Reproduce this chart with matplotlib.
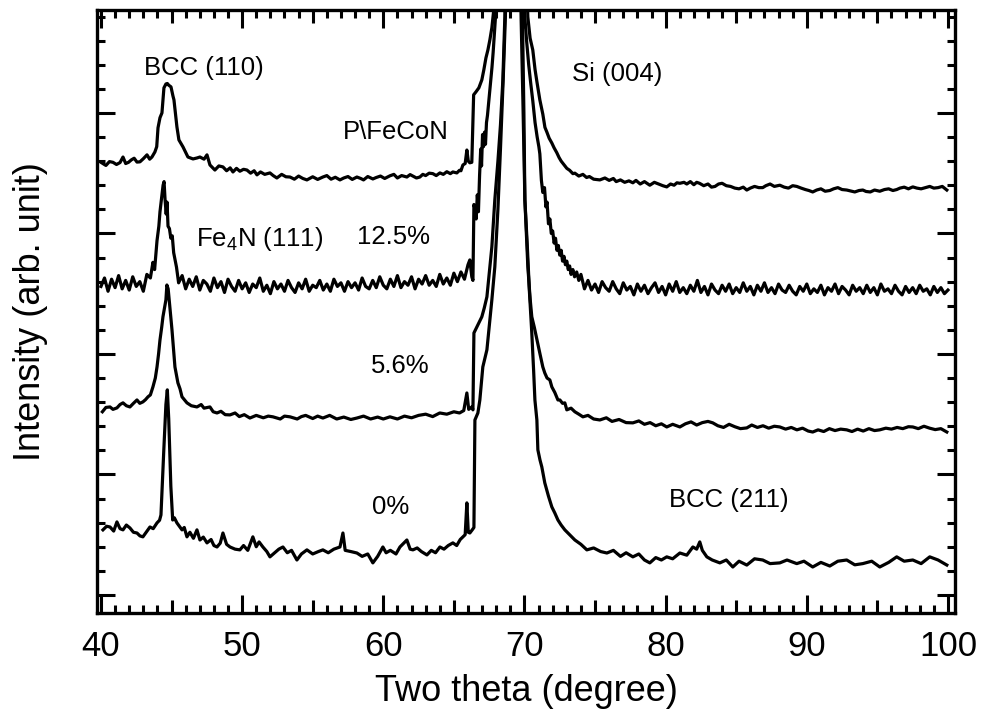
import numpy as np
import matplotlib
matplotlib.use("Agg")
import matplotlib.pyplot as plt
from matplotlib.ticker import MultipleLocator

plt.rcParams['font.family'] = ['Liberation Sans', 'DejaVu Sans']
plt.rcParams['mathtext.fontset'] = 'custom'
plt.rcParams['mathtext.rm'] = 'Liberation Sans'
plt.rcParams['mathtext.it'] = 'Liberation Sans'
plt.rcParams['mathtext.default'] = 'rm'

# --- P\FeCoN (top trace) ---
tt_fecon = [40.05, 40.35, 40.6, 40.85, 41.1, 41.35, 41.56, 41.75, 41.95, 42.15,
            42.35, 42.55, 42.76, 43.0, 43.26, 43.45, 43.61, 43.82, 43.95, 44.04,
            44.18, 44.32, 44.46, 44.6, 44.7, 44.8, 44.96, 45.1, 45.17, 45.38,
            45.52, 45.81, 46.16, 46.52, 46.8, 47.01, 47.3, 47.51, 47.72, 48.07,
            48.35, 48.64, 48.9, 49.15, 49.35, 49.6, 49.84, 50.1, 50.34, 50.6,
            50.85, 51.05, 51.3, 51.6, 51.97, 52.2, 52.46, 52.8, 53.1, 53.39,
            53.7, 54.0, 54.3, 54.59, 55.0, 55.35, 55.72, 56.0, 56.3, 56.6,
            56.93, 57.2, 57.5, 57.8, 58.13, 58.4, 58.6, 58.9, 59.26, 59.5,
            59.8, 60.1, 60.47, 60.75, 61.0, 61.3, 61.67, 61.9, 62.1, 62.35,
            62.59, 62.8, 63.0, 63.25, 63.51, 63.75, 64.01, 64.25, 64.5, 64.75,
            64.93, 65.21, 65.4, 65.5, 65.64, 65.8, 65.92, 66.02, 66.13, 66.27,
            66.4, 66.56, 66.77, 66.98, 67.12, 67.27, 67.41, 67.55, 67.69, 67.83,
            68.3, 69.0, 69.8, 70.24, 70.4, 70.59, 70.75, 70.88, 71.09, 71.3,
            71.45, 71.59, 71.75, 71.94, 72.1, 72.29, 72.45, 72.6, 72.8, 73.0,
            73.2, 73.43, 73.57, 73.85, 74.14, 74.4, 74.6, 74.9, 75.34, 75.7,
            76.0, 76.3, 76.5, 76.8, 77.1, 77.4, 77.68, 77.9, 78.2, 78.5,
            78.88, 79.2, 79.5, 79.8, 80.08, 80.35, 80.6, 80.8, 81.01, 81.3,
            81.5, 81.75, 82.0, 82.2, 82.4, 82.7, 83.0, 83.25, 83.5, 83.75,
            84.0, 84.3, 84.6, 84.9, 85.2, 85.5, 85.75, 86.0, 86.3, 86.6,
            86.88, 87.1, 87.4, 87.7, 88.09, 88.4, 88.7, 89.0, 89.29, 89.6,
            89.9, 90.15, 90.42, 90.7, 91.0, 91.3, 91.63, 91.9, 92.2, 92.5,
            92.83, 93.1, 93.4, 93.7, 93.97, 94.2, 94.5, 94.8, 95.17, 95.5,
            95.8, 96.1, 96.37, 96.6, 96.9, 97.2, 97.51, 97.8, 98.1, 98.4,
            98.71, 99.0, 99.3, 99.6, 99.92]
int_fecon = [17.93, 17.82, 17.98, 17.95, 17.86, 17.94, 18.17, 17.9, 17.95, 18.05,
             18.12, 17.96, 17.97, 18.1, 18.26, 18.08, 18.17, 18.38, 18.6, 19.38,
             19.8, 20.0, 21.04, 21.2, 21.22, 21.15, 21.08, 20.7, 20.54, 19.42,
             18.88, 18.59, 18.17, 18.09, 18.13, 18.17, 18.08, 18.26, 17.84, 17.63,
             17.8, 17.76, 17.6, 17.72, 17.55, 17.7, 17.58, 17.66, 17.63, 17.5,
             17.6, 17.43, 17.55, 17.45, 17.51, 17.4, 17.3, 17.45, 17.35, 17.34,
             17.25, 17.38, 17.28, 17.22, 17.35, 17.24, 17.34, 17.4, 17.25, 17.33,
             17.22, 17.3, 17.36, 17.24, 17.34, 17.28, 17.22, 17.36, 17.26, 17.32,
             17.38, 17.28, 17.39, 17.45, 17.3, 17.4, 17.34, 17.44, 17.38, 17.3,
             17.34, 17.45, 17.4, 17.5, 17.48, 17.4, 17.51, 17.45, 17.56, 17.48,
             17.55, 17.51, 17.62, 17.6, 17.84, 17.9, 18.46, 18.0, 17.93, 17.95,
             20.75, 20.87, 21.04, 21.37, 21.78, 22.28, 22.61, 23.03, 23.53, 24.3,
             32.0, 40.0, 32.0, 23.98, 23.1, 22.61, 21.8, 21.3, 20.54, 19.95,
             19.4, 19.2, 18.95, 18.75, 18.55, 18.35, 18.15, 18.0, 17.85, 17.7,
             17.62, 17.48, 17.5, 17.38, 17.45, 17.32, 17.36, 17.25, 17.22, 17.3,
             17.2, 17.28, 17.15, 17.22, 17.12, 17.18, 17.1, 17.2, 17.05, 17.15,
             17.0, 17.12, 17.05, 16.98, 16.93, 17.05, 17.0, 17.1, 17.08, 17.12,
             17.05, 17.15, 17.02, 17.12, 17.08, 16.98, 17.05, 16.92, 16.95, 17.05,
             17.08, 16.98, 16.95, 16.88, 16.85, 16.92, 16.8, 16.88, 16.95, 16.9,
             16.9, 16.98, 17.05, 16.95, 17.0, 16.92, 16.88, 16.98, 16.95, 16.88,
             16.82, 16.78, 16.72, 16.8, 16.85, 16.75, 16.78, 16.85, 16.9, 16.82,
             16.8, 16.76, 16.72, 16.78, 16.8, 16.74, 16.72, 16.8, 16.75, 16.82,
             16.85, 16.78, 16.82, 16.88, 16.92, 16.85, 16.93, 16.88, 16.85, 16.9,
             16.95, 16.88, 16.9, 16.95, 16.8]

# --- 12.5 % trace (constant 0.25 deg scan step outside the peaks) ---
int_125_a = [12.8, 13.15, 12.6, 13.1, 12.75, 13.25, 12.7, 13.05, 12.65, 13.2,
             12.8, 13.0, 12.6, 13.3, 13.15]
tt_125_peak = [43.68, 43.8, 43.97, 44.1, 44.18, 44.3, 44.4, 44.47, 44.54, 44.62,
               44.68, 44.75, 44.85, 44.95, 45.05, 45.15, 45.25, 45.35]
int_125_peak = [13.8, 13.5, 14.7, 15.3, 15.9, 16.5, 17.0, 17.15, 16.4, 15.8,
                16.3, 15.3, 15.2, 14.8, 14.9, 14.2, 13.9, 13.6]
int_125_b = [12.95, 13.25, 12.7, 13.1, 12.8, 13.2, 12.65, 13.05, 12.9, 12.6,
             13.15, 12.75, 13.0, 12.55, 13.1, 12.8, 12.6, 13.05, 12.7, 12.95,
             12.55, 12.9, 12.75, 13.15, 12.6, 12.85, 12.5, 13.0, 12.7, 12.9,
             12.6, 13.05, 12.75, 12.55, 12.95, 12.7, 13.1, 12.6, 12.85, 12.75,
             13.05, 12.65, 12.9, 12.6, 13.1, 12.8, 12.95, 12.6, 13.0, 12.75,
             12.95, 12.65, 13.15, 12.8, 12.7, 13.05, 12.75, 13.2, 12.85, 12.7,
             13.1, 12.8, 13.25, 12.75, 13.0, 12.85, 13.2, 12.7, 13.1, 12.9,
             13.25, 12.85, 13.05, 12.8, 13.3, 12.9, 13.15, 12.85, 13.35, 13.0,
             13.4, 13.1, 13.7]
tt_125_si = [66.13, 66.27, 66.35, 66.42, 66.5, 66.58, 66.66, 66.74, 66.82, 66.9,
             66.96, 67.03, 67.1, 67.17, 67.24, 67.31, 67.38, 67.46, 67.54, 67.62,
             67.7, 67.78, 67.86, 67.95, 68.05, 69.0, 70.0, 70.15, 70.3, 70.45,
             70.59, 70.75, 70.9, 71.02, 71.09, 71.2, 71.3, 71.42, 71.52, 71.6,
             71.7, 71.8, 71.9, 72.0, 72.1, 72.2, 72.3, 72.4, 72.5, 72.6,
             72.7, 72.8, 72.9, 73.0, 73.1, 73.2, 73.3, 73.43, 73.55, 73.7,
             73.85, 74.0, 74.15]
int_125_si = [13.9, 13.2, 13.05, 16.2, 16.0, 15.6, 16.6, 15.9, 17.4, 18.5,
              17.8, 19.1, 18.6, 19.2, 18.7, 19.6, 19.9, 20.4, 20.9, 21.4,
              21.9, 22.5, 23.2, 24.0, 25.0, 40.0, 24.2, 23.0, 22.0, 21.2,
              20.5, 19.6, 19.0, 18.6, 18.3, 17.2, 16.7, 16.9, 16.1, 16.3,
              15.4, 15.6, 15.0, 15.1, 14.6, 14.8, 14.3, 14.5, 14.1, 14.3,
              13.85, 14.05, 13.7, 13.85, 13.5, 13.65, 13.3, 13.5, 13.2, 13.4,
              13.05, 13.3, 12.95]
int_125_c = [12.7, 13.05, 12.65, 12.9, 12.55, 13.0, 12.75, 12.6, 13.0, 12.7,
             12.5, 12.95, 12.65, 12.8, 12.45, 12.9, 12.6, 12.85, 12.5, 12.75,
             12.95, 12.55, 12.8, 12.45, 12.9, 12.6, 13.0, 12.55, 12.75, 12.5,
             12.85, 12.6, 13.05, 12.55, 12.8, 12.45, 12.9, 12.65, 12.5, 12.85,
             12.6, 12.9, 12.5, 12.75, 12.55, 12.95, 12.6, 12.8, 12.45, 12.85,
             12.6, 12.95, 12.55, 12.75, 12.5, 12.9, 12.65, 12.55, 12.85, 12.6,
             12.45, 12.8, 12.6, 12.9, 12.5, 12.7, 12.55, 12.85, 12.45, 12.75,
             12.6, 12.9, 12.5, 12.8, 12.65, 12.45, 12.85, 12.6, 12.75, 12.5,
             12.85, 12.55, 12.75, 12.45, 12.9, 12.6, 12.7, 12.5, 12.85, 12.6,
             12.45, 12.8, 12.55, 12.75, 12.5, 12.85, 12.6, 12.7, 12.45, 12.8,
             12.55, 12.75, 12.5, 12.65]

# --- 5.6 % trace ---
tt_56 = [40.1, 40.35, 40.64, 40.85, 41.13, 41.35, 41.56, 41.8, 42.05, 42.3,
         42.55, 42.75, 42.97, 43.15, 43.33, 43.5, 43.68, 43.85, 43.97, 44.08,
         44.18, 44.3, 44.39, 44.5, 44.6, 44.67, 44.76, 44.9, 45.03, 45.24,
         45.45, 45.6, 45.74, 46.09, 46.4, 46.8, 47.1, 47.3, 47.72, 47.95,
         48.22, 48.5, 48.8, 49.14, 49.5, 49.8, 50.15, 50.55, 51.0, 51.5,
         51.85, 52.18, 52.7, 53.0, 53.39, 53.9, 54.2, 54.5, 55.0, 55.35,
         55.72, 56.2, 56.5, 56.7, 57.2, 57.7, 58.13, 58.6, 59.1, 59.6,
         60.0, 60.47, 61.0, 61.5, 62.0, 62.5, 63.0, 63.5, 64.0, 64.5,
         65.0, 65.4, 65.7, 65.92, 66.05, 66.27, 66.35, 66.42, 66.63, 66.98,
         67.15, 67.34, 67.5, 67.69, 67.9, 68.12, 68.3, 68.47, 68.61, 69.0,
         69.75, 69.89, 70.03, 70.24, 70.4, 70.52, 70.7, 70.88, 71.1, 71.3,
         71.44, 71.6, 71.8, 71.94, 72.15, 72.37, 72.51, 72.7, 72.86, 73.0,
         73.3, 73.57, 73.85, 74.14, 74.5, 74.9, 75.34, 75.8, 76.2, 76.7,
         77.2, 77.68, 78.1, 78.5, 78.9, 79.3, 79.7, 80.08, 80.5, 81.01,
         81.4, 81.8, 82.2, 82.6, 83.0, 83.34, 83.7, 84.1, 84.5, 84.9,
         85.3, 85.75, 86.1, 86.5, 86.9, 87.3, 87.7, 88.09, 88.5, 88.9,
         89.3, 89.7, 90.1, 90.42, 90.8, 91.2, 91.6, 92.0, 92.4, 92.83,
         93.2, 93.6, 94.0, 94.4, 94.8, 95.17, 95.6, 96.0, 96.4, 96.8,
         97.2, 97.51, 97.9, 98.3, 98.7, 99.1, 99.5, 99.92]
int_56 = [7.6, 7.78, 7.8, 7.7, 7.76, 7.9, 7.97, 7.85, 7.8, 7.95,
          8.09, 7.95, 8.01, 8.1, 8.22, 8.3, 8.63, 9.0, 9.46, 10.0,
          10.58, 11.1, 11.54, 11.9, 12.24, 12.86, 12.7, 11.8, 11.0, 9.46,
          8.8, 8.55, 8.22, 7.97, 7.85, 7.8, 7.9, 7.75, 7.8, 7.6,
          7.55, 7.62, 7.48, 7.47, 7.55, 7.4, 7.48, 7.34, 7.45, 7.35,
          7.42, 7.39, 7.3, 7.42, 7.39, 7.3, 7.4, 7.45, 7.32, 7.42,
          7.34, 7.45, 7.36, 7.3, 7.38, 7.28, 7.34, 7.42, 7.3, 7.38,
          7.3, 7.39, 7.3, 7.42, 7.35, 7.45, 7.5, 7.4, 7.55, 7.5,
          7.6, 7.55, 7.65, 8.38, 7.7, 7.8, 7.68, 10.87, 11.12, 11.54,
          11.9, 12.37, 13.3, 14.44, 16.39, 18.0, 19.5, 21.37, 23.98, 40.0,
          24.3, 20.5, 16.39, 13.61, 12.3, 11.54, 11.1, 10.6, 10.0, 9.46,
          9.21, 9.0, 8.92, 8.63, 8.4, 8.09, 8.09, 7.95, 7.97, 7.68,
          7.75, 7.6, 7.5, 7.39, 7.45, 7.3, 7.26, 7.35, 7.2, 7.28,
          7.15, 7.14, 7.22, 7.08, 7.15, 7.02, 7.1, 6.97, 7.08, 6.97,
          7.1, 7.18, 7.05, 7.15, 7.2, 7.14, 7.02, 6.95, 7.08, 6.98,
          6.9, 6.93, 7.05, 6.95, 7.02, 6.92, 7.0, 6.97, 6.88, 6.95,
          6.85, 6.92, 6.8, 6.76, 6.85, 6.78, 6.9, 6.82, 6.88, 6.85,
          6.78, 6.88, 6.8, 6.9, 6.82, 6.85, 6.92, 6.88, 6.95, 6.9,
          6.98, 6.97, 6.9, 7.0, 6.92, 6.86, 6.9, 6.76]

# --- 0 % trace ---
tt_0 = [40.14, 40.4, 40.64, 40.9, 41.13, 41.35, 41.56, 41.8, 42.05, 42.3,
        42.55, 42.76, 42.97, 43.2, 43.47, 43.7, 43.97, 44.15, 44.25, 44.45,
        44.6, 44.7, 44.8, 44.95, 45.08, 45.2, 45.38, 45.55, 45.74, 45.9,
        46.09, 46.3, 46.55, 46.8, 47.01, 47.25, 47.51, 47.8, 48.0, 48.22,
        48.45, 48.64, 48.9, 49.14, 49.5, 49.84, 50.1, 50.4, 50.76, 51.0,
        51.2, 51.47, 51.75, 51.97, 52.3, 52.6, 52.89, 53.2, 53.5, 53.88,
        54.2, 54.59, 55.0, 55.4, 55.72, 56.1, 56.5, 56.93, 57.14, 57.3,
        57.7, 58.13, 58.5, 58.9, 59.26, 59.6, 59.97, 60.2, 60.5, 60.9,
        61.18, 61.45, 61.67, 61.9, 62.1, 62.4, 62.7, 63.09, 63.4, 63.7,
        64.01, 64.3, 64.6, 64.93, 65.2, 65.45, 65.64, 65.8, 65.92, 66.02,
        66.13, 66.3, 66.42, 66.49, 66.7, 66.84, 67.05, 67.34, 67.69, 67.9,
        68.12, 68.3, 68.5, 68.65, 69.0, 69.85, 69.96, 70.03, 70.2, 70.35,
        70.52, 70.65, 70.74, 70.88, 70.95, 71.1, 71.23, 71.44, 71.7, 71.94,
        72.15, 72.37, 72.6, 72.86, 73.2, 73.57, 74.0, 74.42, 74.9, 75.4,
        75.84, 76.3, 76.8, 77.2, 77.68, 78.1, 78.5, 78.88, 79.3, 79.7,
        80.08, 80.5, 81.01, 81.5, 81.93, 82.2, 82.42, 82.6, 82.92, 83.3,
        83.84, 84.3, 84.76, 85.2, 85.75, 86.3, 86.88, 87.4, 88.09, 88.6,
        89.29, 89.8, 90.42, 91.0, 91.63, 92.2, 92.83, 93.4, 93.97, 94.6,
        95.17, 95.8, 96.37, 96.9, 97.51, 98.1, 98.71, 99.3, 99.92]
int_0 = [2.7, 2.85, 2.82, 2.65, 3.03, 2.75, 2.7, 2.9, 2.78, 2.6,
         2.57, 2.45, 2.41, 2.6, 2.82, 2.75, 2.99, 3.1, 3.32, 6.0,
         7.9, 8.51, 7.3, 4.5, 3.11, 3.2, 2.99, 2.85, 2.7, 2.8,
         2.41, 2.6, 2.35, 2.7, 2.28, 2.4, 2.16, 2.3, 2.05, 1.99,
         2.15, 2.57, 2.1, 1.99, 1.9, 1.87, 2.05, 1.85, 2.41, 2.0,
         2.2, 1.99, 1.8, 1.58, 1.75, 1.9, 1.99, 1.75, 1.85, 1.45,
         1.7, 1.87, 1.7, 1.8, 1.87, 1.75, 1.9, 1.99, 2.57, 1.85,
         1.8, 1.74, 1.6, 1.7, 1.33, 1.6, 1.99, 1.75, 1.85, 1.7,
         1.99, 2.15, 2.28, 1.9, 1.87, 1.95, 1.8, 1.66, 1.85, 1.75,
         1.99, 1.9, 2.05, 2.16, 2.05, 2.3, 2.41, 2.5, 3.82, 2.6,
         2.57, 2.7, 2.8, 7.26, 7.55, 8.09, 9.46, 10.17, 12.24, 13.61,
         16.0, 18.5, 21.5, 24.0, 40.0, 24.3, 20.0, 16.39, 14.5, 12.6,
         10.87, 9.3, 8.09, 7.26, 6.02, 5.6, 5.31, 4.65, 4.1, 3.65,
         3.4, 3.11, 2.9, 2.7, 2.5, 2.28, 2.1, 1.87, 1.95, 1.8,
         1.74, 1.85, 1.6, 1.75, 1.58, 1.7, 1.45, 1.33, 1.55, 1.45,
         1.58, 1.5, 1.74, 1.65, 1.99, 1.9, 2.2, 1.85, 1.58, 1.45,
         1.33, 1.45, 1.16, 1.4, 1.24, 1.5, 1.45, 1.3, 1.33, 1.45,
         1.3, 1.4, 1.16, 1.35, 1.2, 1.4, 1.45, 1.25, 1.3, 1.4,
         1.16, 1.35, 1.58, 1.4, 1.45, 1.3, 1.58, 1.45, 1.24]

# scan at 0.25 deg step for the noisy 12.5 % baseline
tt_125 = np.concatenate([np.arange(40.0, 43.51, 0.25), tt_125_peak,
                         np.arange(45.5, 66.01, 0.25), tt_125_si,
                         np.arange(74.25, 100.01, 0.25)])
int_125 = np.concatenate([int_125_a, int_125_peak, int_125_b, int_125_si, int_125_c])

labels = [("BCC (110)", 47.3, 21.85), ("P\\FeCoN", 60.9, 19.2),
          ("Si (004)", 76.6, 21.6), ("Fe$_4$N (111)", 51.25, 14.75),
          ("12.5%", 60.75, 14.85), ("5.6%", 61.2, 9.5),
          ("0%", 60.5, 3.65), ("BCC (211)", 84.5, 3.95)]

fig = plt.figure(figsize=(9.81, 7.19), dpi=100)
ax = fig.add_axes([0.0989, 0.1474, 0.8746, 0.8387])

for x, y in [(tt_fecon, int_fecon), (tt_125, int_125), (tt_56, int_56), (tt_0, int_0)]:
    ax.plot(x, y, color='black', lw=2.3)

for txt, x, y in labels:
    ax.text(x, y, txt, fontsize=18.5, ha='center', va='center')

ax.set_xlim(39.72, 100.5)
ax.set_ylim(-0.75, 24.27)
ax.xaxis.set_major_locator(MultipleLocator(10))
ax.xaxis.set_minor_locator(MultipleLocator(1))
ax.yaxis.set_major_locator(MultipleLocator(5))
ax.yaxis.set_minor_locator(MultipleLocator(1))
ax.tick_params(which='both', direction='in', top=True, right=True, width=2.2)
ax.tick_params(which='major', length=13, labelsize=25, pad=12)
ax.tick_params(which='minor', length=6)
ax.tick_params(axis='y', labelleft=False)
for s in ax.spines.values():
    s.set_linewidth(2.4)

# medium ticks at the 5-degree marks
locs = ax.xaxis.get_minorticklocs()
ticks = ax.xaxis.get_minor_ticks(len(locs))
for t, loc in zip(ticks, locs):
    if abs(loc / 5 - round(loc / 5)) < 1e-6:
        t.tick1line.set_markersize(9.5)
        t.tick2line.set_markersize(9.5)

ax.set_xlabel("Two theta (degree)", fontsize=26, labelpad=8)
ax.set_ylabel("Intensity (arb. unit)", fontsize=26)
ax.yaxis.set_label_coords(-0.057, 0.5)

fig.savefig("out.png", dpi=100)
